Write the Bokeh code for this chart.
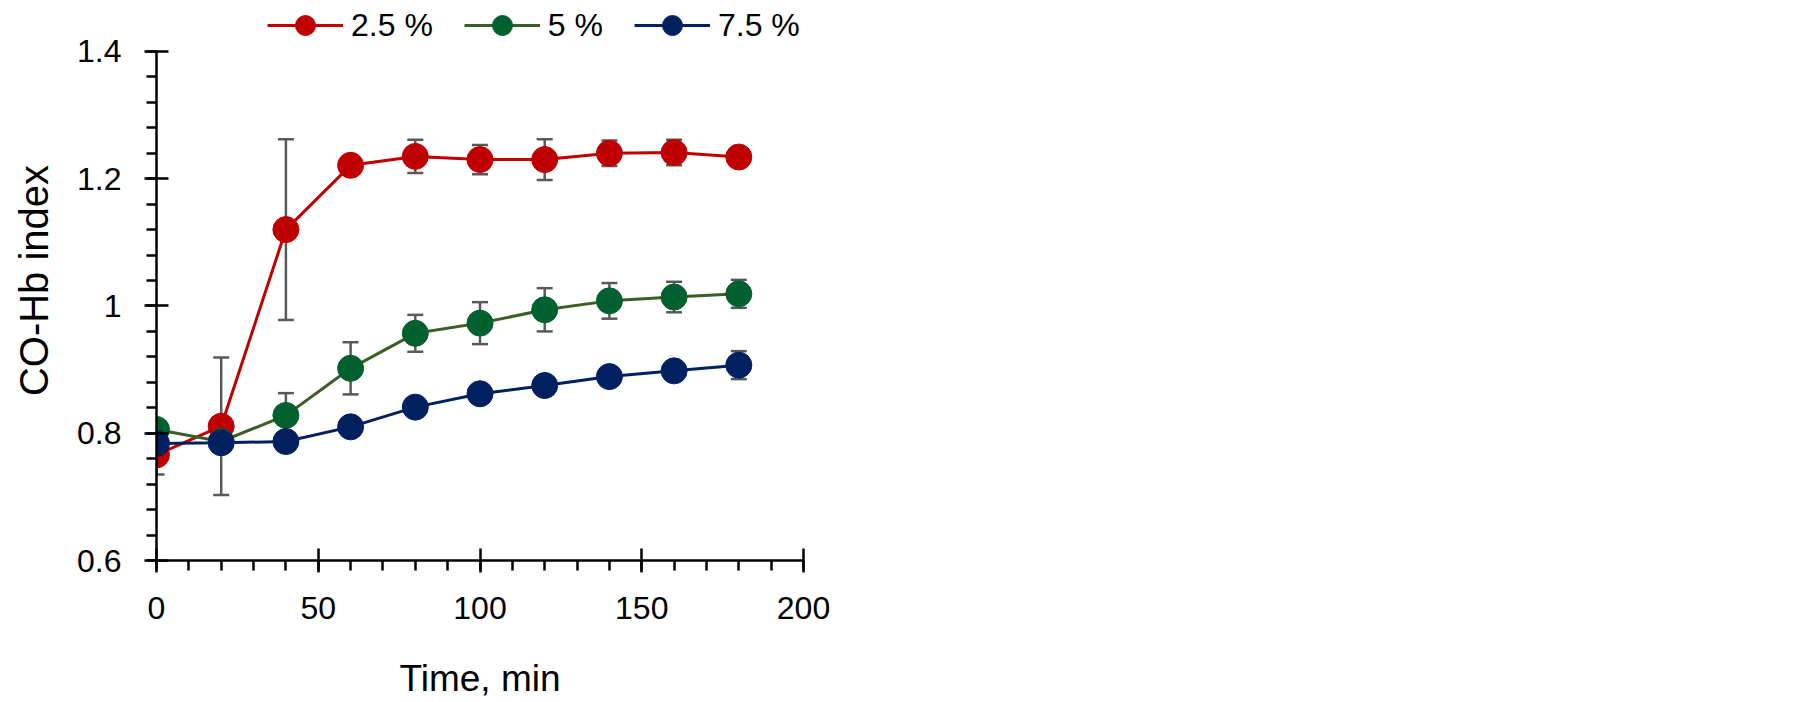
import numpy as np
from bokeh.plotting import figure
from bokeh.models import (ColumnDataSource, Whisker, TeeHead, Legend, LegendItem,
                          FixedTicker, CustomJSTickFormatter, Range1d)
from bokeh.embed import file_html
from bokeh.resources import INLINE

time = [0, 20, 40, 60, 80, 100, 120, 140, 160, 180]
labels = ["2.5 %", "5 %", "7.5 %"]
s25 = [0.766, 0.811, 1.120, 1.221, 1.235, 1.230, 1.230, 1.240, 1.241, 1.234]
e25 = [0.031, 0.108, 0.142, 0.010, 0.026, 0.023, 0.032, 0.020, 0.020, 0.010]
s50 = [0.806, 0.787, 0.828, 0.902, 0.957, 0.973, 0.994, 1.008, 1.014, 1.019]
e50 = [0.010, 0.010, 0.035, 0.041, 0.029, 0.033, 0.034, 0.028, 0.024, 0.022]
s75 = [0.784, 0.785, 0.787, 0.810, 0.841, 0.862, 0.875, 0.889, 0.898, 0.907]
e75 = [0.010, 0.010, 0.010, 0.010, 0.010, 0.010, 0.010, 0.010, 0.012, 0.022]
y_ticks = [0.6, 0.8, 1.0, 1.2, 1.4]
x_ticks = [0, 50, 100, 150, 200]

FONT = "Liberation Sans"
FS = "32px"

# the frame extends above 1.4 to host the legend; the y axis line stops at 1.4
p = figure(width=1800, height=702, output_backend="svg", toolbar_location=None,
           x_range=Range1d(0, 200), y_range=Range1d(0.6, 1.48),
           min_border_left=156, min_border_top=0, min_border_right=997,
           min_border_bottom=142)
p.outline_line_color = None
p.grid.visible = False
p.background_fill_color = "white"

series = [
    (s25, e25, "#C00000", "#C00000"),
    (s50, e50, "#3A5F24", "#00612E"),
    (s75, e75, "#002060", "#002060"),
]

items = []
for (vals, errs, lcol, mcol), lab in zip(series, labels):
    src = ColumnDataSource(dict(
        x=time, y=vals,
        lo=[v - e for v, e in zip(vals, errs)],
        hi=[v + e for v, e in zip(vals, errs)]))
    w = Whisker(source=src, base="x", lower="lo", upper="hi",
                line_color="#595959", line_width=2.5, level="underlay",
                upper_head=TeeHead(size=16, line_color="#595959", line_width=2.5),
                lower_head=TeeHead(size=16, line_color="#595959", line_width=2.5))
    p.add_layout(w)
    lr = p.line("x", "y", source=src, line_color=lcol, line_width=3)
    sr = p.scatter("x", "y", source=src, size=26, marker="circle",
                   fill_color=mcol, line_color=mcol)
    items.append(LegendItem(label=lab, renderers=[lr, sr]))

legend = Legend(items=items, orientation="horizontal", location=(111, 510),
                glyph_width=76, glyph_height=50, label_standoff=8, spacing=31,
                padding=0, margin=0, border_line_color=None,
                background_fill_alpha=0, label_text_font=FONT,
                label_text_font_size=FS, label_text_color="black")
p.add_layout(legend, "center")

for ax in (p.xaxis[0], p.yaxis[0]):
    ax.axis_line_width = 2.5
    ax.axis_line_color = "black"
    ax.major_tick_line_width = 2.5
    ax.minor_tick_line_width = 2.5
    ax.major_tick_line_color = "black"
    ax.minor_tick_line_color = "black"
    ax.major_tick_in = 12
    ax.major_tick_out = 12
    ax.minor_tick_in = 0
    ax.minor_tick_out = 10
    ax.major_label_text_font = FONT
    ax.major_label_text_font_size = FS
    ax.major_label_text_color = "black"
    ax.axis_label_text_font = FONT
    ax.axis_label_text_font_style = "normal"
    ax.axis_label_text_color = "black"

p.yaxis.bounds = (0.6, 1.4)
p.yaxis.axis_label_text_font_size = "40px"
p.xaxis.axis_label_text_font_size = "37px"
p.yaxis.ticker = FixedTicker(ticks=y_ticks,
                             minor_ticks=list(np.round(np.arange(0.6, 1.4001, 0.04), 3)))
p.xaxis.ticker = FixedTicker(ticks=x_ticks, minor_ticks=list(range(0, 201, 10)))
p.yaxis.formatter = CustomJSTickFormatter(code="return String(Math.round(tick*100)/100)")
p.yaxis.axis_label = "CO-Hb index"
p.xaxis.axis_label = "Time, min"
p.yaxis.major_label_standoff = 23
p.xaxis.major_label_standoff = 24
p.yaxis.axis_label_standoff = 18
p.xaxis.axis_label_standoff = 36

open("out.html", "w").write(file_html(p, INLINE))
